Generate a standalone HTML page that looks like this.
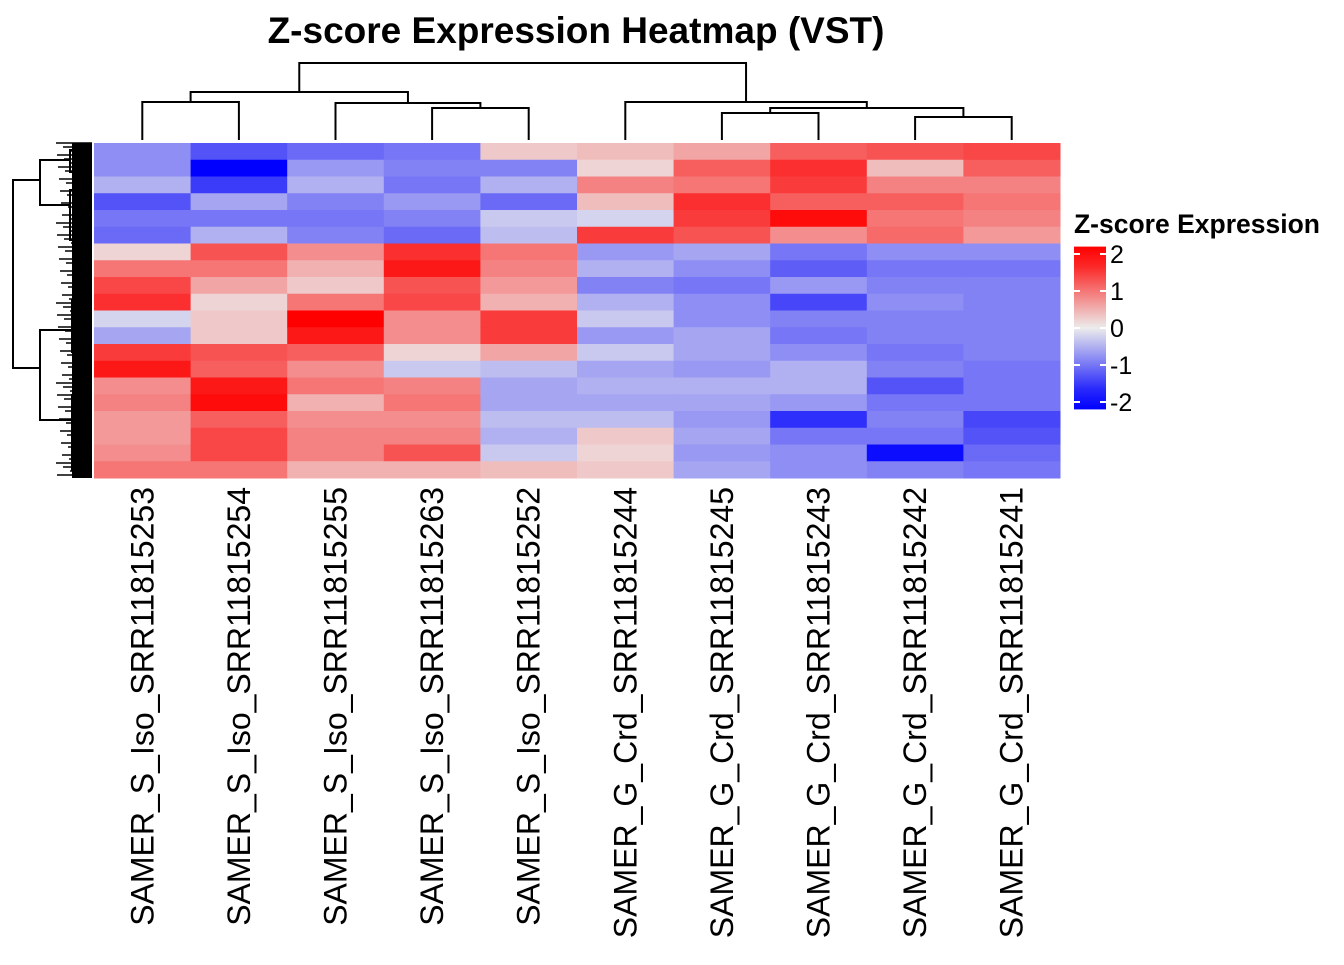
<!DOCTYPE html>
<html><head><meta charset="utf-8"><style>
body{margin:0;background:#fff;}
svg text{font-family:"Liberation Sans",Arial,sans-serif;}
</style></head><body>
<svg id="chart" width="1344" height="960" xmlns="http://www.w3.org/2000/svg">
<text x="576" y="43" text-anchor="middle" font-size="37" font-weight="bold">Z-score Expression Heatmap (VST)</text>
<g id="cells"></g>
<g id="coldendro" stroke="#000" stroke-width="2" fill="none"></g>
<g id="rowdendro" stroke="#000" stroke-width="2" fill="none"></g>
<g id="labels"></g>
<g id="legend"></g>
</svg>
<script>
const samples=["SAMER_S_Iso_SRR11815253","SAMER_S_Iso_SRR11815254","SAMER_S_Iso_SRR11815255","SAMER_S_Iso_SRR11815263","SAMER_S_Iso_SRR11815252","SAMER_G_Crd_SRR11815244","SAMER_G_Crd_SRR11815245","SAMER_G_Crd_SRR11815243","SAMER_G_Crd_SRR11815242","SAMER_G_Crd_SRR11815241"];
const col253=[-0.8,-0.8,-0.5,-1.3,-1.0,-1.1,0.2,1.0,1.4,1.6,-0.2,-0.6,1.5,1.8,0.8,0.9,0.7,0.7,0.8,1.0];
const col254=[-1.3,-2.0,-1.5,-0.6,-1.0,-0.5,1.3,1.0,0.6,0.2,0.3,0.3,1.3,1.2,1.8,1.9,1.2,1.4,1.4,1.0];
const col255=[-1.1,-0.7,-0.5,-0.9,-1.0,-0.9,0.8,0.5,0.3,1.0,2.0,1.8,1.2,0.8,1.0,0.5,0.8,0.9,0.9,0.5];
const col263=[-1.0,-0.9,-1.0,-0.7,-0.9,-1.1,1.6,1.8,1.3,1.4,0.8,0.8,0.2,-0.3,0.9,1.0,0.8,0.9,1.3,0.5];
const col252=[0.3,-0.9,-0.5,-1.1,-0.3,-0.4,1.0,0.9,0.7,0.5,1.5,1.5,0.6,-0.4,-0.6,-0.6,-0.4,-0.5,-0.3,0.4];
const col244=[0.4,0.2,0.9,0.4,-0.2,1.5,-0.7,-0.5,-0.9,-0.5,-0.3,-0.7,-0.3,-0.6,-0.5,-0.6,-0.4,0.3,0.2,0.3];
const col245=[0.6,1.2,1.0,1.6,1.5,1.3,-0.6,-0.8,-1.0,-0.8,-0.8,-0.6,-0.6,-0.7,-0.5,-0.6,-0.7,-0.6,-0.7,-0.6];
const col243=[1.2,1.6,1.5,1.2,1.9,0.8,-1.0,-1.2,-0.7,-1.4,-0.9,-1.0,-0.8,-0.5,-0.5,-0.7,-1.6,-1.0,-0.8,-0.8];
const col242=[1.3,0.4,0.9,1.2,1.0,1.1,-0.8,-1.0,-0.9,-0.8,-0.9,-0.9,-1.0,-0.9,-1.3,-1.0,-0.9,-1.0,-1.9,-0.9];
const col241=[1.4,1.2,0.9,1.0,0.9,0.7,-0.8,-1.0,-0.9,-0.9,-0.9,-0.9,-0.9,-1.0,-1.0,-1.0,-1.4,-1.3,-1.1,-1.0];
const columns=[col253,col254,col255,col263,col252,col244,col245,col243,col242,col241];
const legendTicks=[2,1,0,-1,-2];
const NS="http://www.w3.org/2000/svg";
const X0=94,X1=1060,Y0=143,Y1=478;
const nCol=columns.length,nRow=col253.length;
const cw=(X1-X0)/nCol,rh=(Y1-Y0)/nRow;
const xPos=i=>X0+cw*i, xMid=i=>X0+cw*(i+0.5), yPos=j=>Y0+rh*j;
function color(v){v=Math.max(-2,Math.min(2,v));const mid=[236,236,236];let c;
 if(v>=0){const t=v/2;c=[mid[0]+(255-mid[0])*t,mid[1]*(1-t),mid[2]*(1-t)];}
 else{const t=-v/2;c=[mid[0]*(1-t),mid[1]*(1-t),mid[2]+(255-mid[2])*t];}
 return `rgb(${c.map(Math.round).join(',')})`;}
function mk(tag,attrs,parent){const e=document.createElementNS(NS,tag);for(const k in attrs)e.setAttribute(k,attrs[k]);parent.appendChild(e);return e;}
const cells=document.getElementById('cells');
columns.forEach((col,i)=>col.forEach((v,j)=>{
 const r=mk('rect',{x:xPos(i),y:yPos(j),width:cw+0.5,height:rh+0.5,fill:color(v)},cells);
 
 
}));
const cd=document.getElementById('coldendro');
function link(xa,ya,xb,yb,top){mk('path',{d:`M${xa} ${ya}V${top}H${xb}V${yb}`},cd);}
const L=140;
link(xMid(0),L,xMid(1),L,102);
link(xMid(3),L,xMid(4),L,108);
const n34=(xMid(3)+xMid(4))/2;
link(xMid(2),L,n34,108,103);
const n01=(xMid(0)+xMid(1))/2,n234=(xMid(2)+n34)/2;
link(n01,102,n234,103,92);
link(xMid(6),L,xMid(7),L,113);
link(xMid(8),L,xMid(9),L,117);
const n67=(xMid(6)+xMid(7))/2,n89=(xMid(8)+xMid(9))/2;
link(n67,113,n89,117,108);
const n6789=(n67+n89)/2;
link(xMid(5),L,n6789,108,102);
const nL=(n01+n234)/2,nR=(xMid(5)+n6789)/2;
link(nL,92,nR,102,63);
const rd=document.getElementById('rowdendro');
function rlink(ya,xa,yb,xb,left){mk('path',{d:`M${xa} ${ya}H${left}V${yb}H${xb}`},rd);}
rlink(180,40,368,40,13);
rlink(160,70,205,70,40);rlink(330,72,420,72,40);
rlink(150,92,172,92,70);rlink(190,92,240,92,70);
rlink(300,92,352,92,72);rlink(395,92,470,92,72);
const ys=[];for(let y=Y0;y<=Y1;y+=4)ys.push(y);
ys.forEach((y,k)=>{mk('line',{x1:56+(k*7)%20,y1:y,x2:92,y2:y,'stroke-width':1.5},rd);});
mk('rect',{x:72,y:Y0,width:20,height:Y1-Y0,fill:'#000',stroke:'none'},rd);
const lab=document.getElementById('labels');
samples.forEach((s,i)=>{
 const t=mk('text',{x:0,y:0,'font-size':32,'text-anchor':'end',transform:`translate(${xMid(i)+11},487) rotate(-90)`},lab);
 t.textContent=s;
 
 
});
const lg=document.getElementById('legend');
const lt=mk('text',{x:1074,y:233,'font-size':26.5,'font-weight':'bold'},lg);lt.textContent='Z-score Expression';


const ly=v=>328-37*v;
const defs=mk('defs',{},lg);
const gr=mk('linearGradient',{id:'lgg',x1:0,y1:0,x2:0,y2:1},defs);
for(let k=0;k<=8;k++){const v=2.2-4.4*k/8;mk('stop',{offset:k/8,'stop-color':color(v)},gr);}
mk('rect',{x:1074,y:ly(2.2),width:32,height:ly(-2.2)-ly(2.2),fill:'url(#lgg)'},lg);
legendTicks.forEach(v=>{
 mk('line',{x1:1074,x2:1080,y1:ly(v),y2:ly(v),stroke:'#fff','stroke-width':2},lg);
 mk('line',{x1:1100,x2:1106,y1:ly(v),y2:ly(v),stroke:'#fff','stroke-width':2},lg);
 const t=mk('text',{x:1110,y:ly(v)+9,'font-size':25},lg);t.textContent=String(v);
 
 
});
</script>
</body></html>
